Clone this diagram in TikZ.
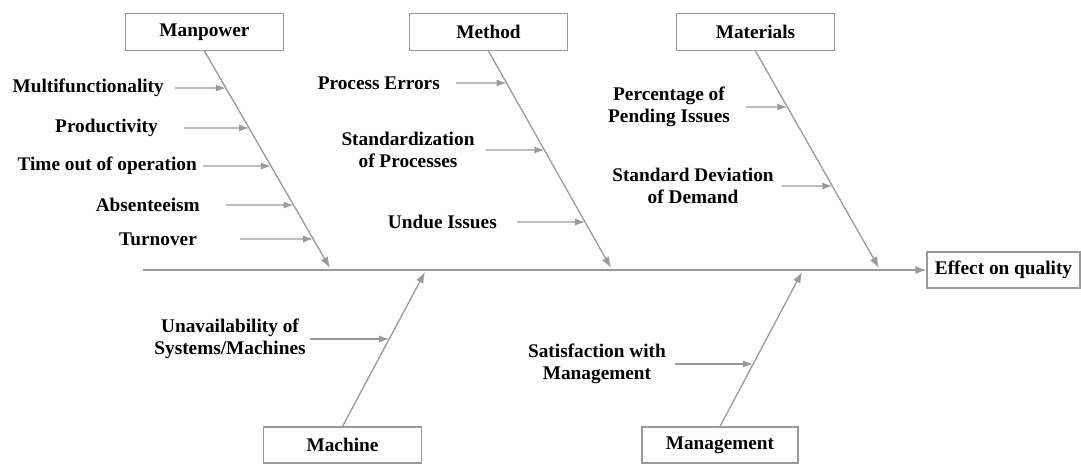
\documentclass[tikz,border=0pt]{standalone}
\usepackage{fontspec}
\setmainfont{Liberation Serif}
\usetikzlibrary{arrows.meta,calc}
\definecolor{ln}{HTML}{9A9A9A}
\begin{document}
\begin{tikzpicture}[x=1pt,y=-1pt,
  box/.style={draw=ln,line width=1.2pt,minimum width=158pt,minimum height=37pt,inner sep=0pt,font=\fontsize{19.3}{22}\selectfont\bfseries},
  lab/.style={inner sep=0pt,font=\fontsize{19.3}{22.5}\selectfont\bfseries,align=center},
  bone/.style={ln,line width=1.3pt,-{Latex[length=11pt,width=8pt]}},
  sub/.style={ln,line width=1.3pt,-{Latex[length=10pt,width=7pt]}}]
\useasboundingbox (0,0) rectangle (1081,466);
% boxes
\node[box] (mp) at (204.5,32) {Manpower};
\node[box] (me) at (488.5,32) {Method};
\node[box] (ma) at (755.5,32) {Materials};
\node[box,minimum width=153pt,minimum height=36pt] (ef) at (1003.5,270) {Effect on quality};
\node[box,minimum height=36pt] (mc) at (342.5,445) {Machine};
\node[box,minimum width=156pt,minimum height=36pt] (mg) at (720,445) {Management};
% spine
\coordinate (sp0) at (143,270);
\draw[bone] (sp0) -- (ef.west);
% bone endpoints
\coordinate (mpE) at (330,268);
\coordinate (meE) at (611,268);
\coordinate (maE) at (879,268);
\coordinate (mcE) at (425,272);
\coordinate (mgE) at (802,272);
\draw[bone] (mp.south) -- (mpE);
\draw[bone] (me.south) -- (meE);
\draw[bone] (ma.south) -- (maE);
\draw[bone] (mc.north) -- (mcE);
\draw[bone] (mg.north) -- (mgE);
% Manpower causes
\node[lab,anchor=east] (l1) at (164,88) {Multifunctionality};
\node[lab,anchor=east] (l2) at (158,128) {Productivity};
\node[lab,anchor=east] (l3) at (197,166) {Time out of operation};
\node[lab,anchor=east] (l4) at (200,205) {Absenteeism};
\node[lab,anchor=east] (l5) at (197,239) {Turnover};
\draw[sub] ($(l1.east)+(11,0)$) -- (intersection of mp.south--mpE and 0,88--1000,88);
\draw[sub] ($(l2.east)+(26,0)$) -- (intersection of mp.south--mpE and 0,128--1000,128);
\draw[sub] ($(l3.east)+(6,0)$) -- (intersection of mp.south--mpE and 0,166--1000,166);
\draw[sub] ($(l4.east)+(26,0)$) -- (intersection of mp.south--mpE and 0,205--1000,205);
\draw[sub] ($(l5.east)+(43,0)$) -- (intersection of mp.south--mpE and 0,239--1000,239);
% Method causes
\node[lab,anchor=east] (m1) at (440,83) {Process Errors};
\node[lab] (m2) at (408,150) {Standardization\\of Processes};
\node[lab,anchor=east] (m3) at (497,222) {Undue Issues};
\draw[sub] ($(m1.east)+(16,0)$) -- (intersection of me.south--meE and 0,83--1000,83);
\draw[sub] ($(m2.east)+(11,0)$) -- (intersection of me.south--meE and 0,150--1000,150);
\draw[sub] ($(m3.east)+(20,0)$) -- (intersection of me.south--meE and 0,222--1000,222);
% Materials causes
\node[lab] (a1) at (669,107) {Percentage of\\Pending Issues};
\node[lab] (a2) at (693,186) {Standard Deviation\\of Demand};
\draw[sub] ($(a1.east)+(16,0)$) -- (intersection of ma.south--maE and 0,107--1000,107);
\draw[sub] ($(a2.east)+(8,0)$) -- (intersection of ma.south--maE and 0,186--1000,186);
% Machine cause
\node[lab] (c1) at (230,339) {Unavailability of\\Systems/Machines};
\draw[sub] ($(c1.east)+(4,0)$) -- (intersection of mc.north--mcE and 0,339--1000,339);
% Management cause
\node[lab] (g1) at (597,364) {Satisfaction with\\Management};
\draw[sub] ($(g1.east)+(9,0)$) -- (intersection of mg.north--mgE and 0,364--1000,364);
\end{tikzpicture}
\end{document}
